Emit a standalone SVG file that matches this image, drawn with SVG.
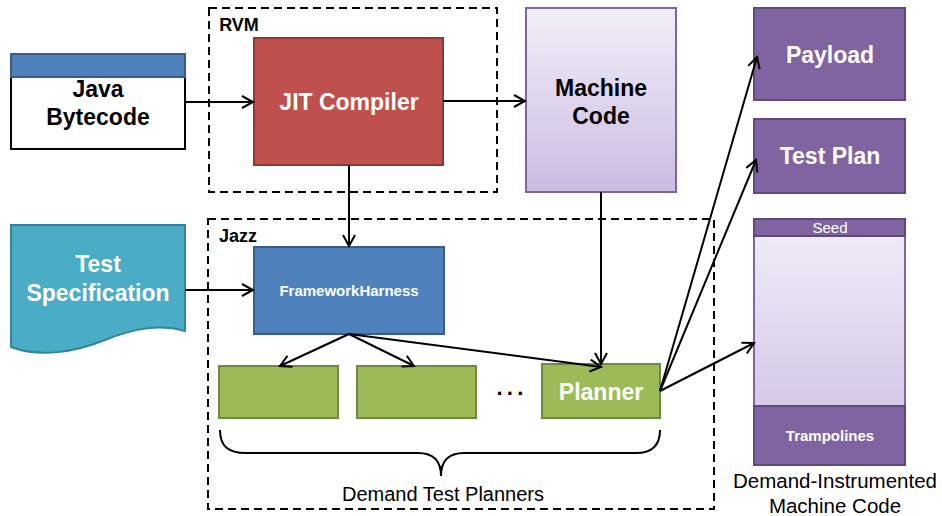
<svg xmlns="http://www.w3.org/2000/svg" width="942" height="516" viewBox="0 0 942 516">
<style>
text{font-family:"Liberation Sans",Arial,sans-serif;text-anchor:middle}
.b{font-weight:bold}
.big{font-size:23px;font-weight:bold}
.w{fill:#ffffff}
.k{fill:#000000}
.dash{fill:none;stroke:#000;stroke-width:2;stroke-dasharray:8,5}
.conn{fill:none;stroke:#000;stroke-width:2}
.purple{fill:#8064A2;stroke:#5F497A;stroke-width:2}
.green{fill:#9BBB59;stroke:#71893F;stroke-width:2}
</style>
<defs>
<marker id="ah" markerUnits="userSpaceOnUse" markerWidth="16" markerHeight="16" viewBox="0 0 16 16" refX="14" refY="8" orient="auto">
<path d="M3,2 L14,8 L3,14" fill="none" stroke="#000" stroke-width="2"/>
</marker>
<linearGradient id="lav" x1="0" y1="0" x2="0" y2="1">
<stop offset="0" stop-color="#F2EEF8"/>
<stop offset="1" stop-color="#CBBCE3"/>
</linearGradient>
</defs>

<g id="rvm">
<rect class="dash" x="209" y="8" width="288" height="184"/>
<text class="b k" x="239" y="31" style="font-size:18px">RVM</text>
</g>
<g id="jazz">
<rect class="dash" x="208" y="219" width="506" height="290"/>
<text class="b k" x="238" y="242" style="font-size:18px">Jazz</text>
</g>

<g id="java-bytecode">
<rect x="11" y="54" width="174" height="95" fill="#fff" stroke="#000" stroke-width="2"/>
<rect x="11" y="54" width="174" height="23" fill="#4F81BD" stroke="#385D8A" stroke-width="2"/>
<text class="big k" x="98" y="97">Java</text>
<text class="big k" x="98" y="125">Bytecode</text>
</g>

<g id="jit-compiler">
<rect x="254" y="38" width="189" height="127" fill="#C0504D" stroke="#8C3836" stroke-width="2"/>
<text class="big w" x="349" y="110">JIT Compiler</text>
</g>

<g id="machine-code">
<rect x="526" y="8" width="150" height="184" fill="url(#lav)" stroke="#8064A2" stroke-width="2"/>
<text class="big k" x="601" y="96">Machine</text>
<text class="big k" x="601" y="124">Code</text>
</g>

<g id="payload">
<rect class="purple" x="754" y="8" width="151" height="92"/>
<text class="big w" x="830" y="63">Payload</text>
</g>

<g id="test-plan">
<rect class="purple" x="754" y="119" width="151" height="74"/>
<text class="big w" x="830" y="164">Test Plan</text>
</g>

<g id="demand-instrumented">
<rect x="754" y="219" width="151" height="246" fill="url(#lav)" stroke="#8064A2" stroke-width="2"/>
<rect class="purple" x="754" y="219" width="151" height="17"/>
<text class="w" x="830" y="233" style="font-size:15px">Seed</text>
<rect class="purple" x="754" y="406" width="151" height="59"/>
<text class="b w" x="830" y="441" style="font-size:15px">Trampolines</text>
<text class="k" x="835" y="488" style="font-size:20.5px">Demand-Instrumented</text>
<text class="k" x="835" y="513" style="font-size:20.5px">Machine Code</text>
</g>

<g id="test-specification">
<path d="M11,225 H185 V331 C160,324 135,328 105,340 C75,352 40,358 11,347 Z" fill="#4BACC6" stroke="#31859C" stroke-width="2"/>
<text class="big w" x="98" y="272">Test</text>
<text class="big w" x="98" y="301">Specification</text>
</g>

<g id="framework-harness">
<rect x="254" y="247" width="190" height="87" fill="#4F81BD" stroke="#385D8A" stroke-width="2"/>
<text class="b w" x="349" y="296" style="font-size:15px">FrameworkHarness</text>
</g>

<g id="planner-1">
<rect class="green" x="219" y="366" width="119" height="52"/>
</g>
<g id="planner-2">
<rect class="green" x="357" y="366" width="119" height="52"/>
</g>
<g id="ellipsis">
<text class="b k" x="512" y="401" style="font-size:22px;letter-spacing:3px">···</text>
</g>
<g id="planner">
<rect class="green" x="542" y="364" width="118" height="54"/>
<text class="big w" x="601" y="400">Planner</text>
</g>

<g id="demand-test-planners">
<path class="conn" d="M220,430 C220,446 228,453 246,453 H418 C434,453 441,462 441,476 C441,462 448,453 464,453 H636 C652,453 660,446 660,430"/>
<text class="k" x="443" y="501" style="font-size:20px">Demand Test Planners</text>
</g>

<g id="connectors">
<line class="conn" x1="185" y1="102" x2="253" y2="102" marker-end="url(#ah)"/>
<line class="conn" x1="443" y1="101" x2="525" y2="101" marker-end="url(#ah)"/>
<line class="conn" x1="349" y1="165" x2="349" y2="246" marker-end="url(#ah)"/>
<line class="conn" x1="185" y1="290" x2="253" y2="290" marker-end="url(#ah)"/>
<line class="conn" x1="601" y1="192" x2="601" y2="364" marker-end="url(#ah)"/>
<line class="conn" x1="349" y1="334" x2="280" y2="366" marker-end="url(#ah)"/>
<line class="conn" x1="349" y1="334" x2="414" y2="366" marker-end="url(#ah)"/>
<line class="conn" x1="349" y1="334" x2="601" y2="367" marker-end="url(#ah)"/>
<line class="conn" x1="660" y1="391" x2="757" y2="57" marker-end="url(#ah)"/>
<line class="conn" x1="660" y1="391" x2="756" y2="160" marker-end="url(#ah)"/>
<line class="conn" x1="660" y1="391" x2="754" y2="343" marker-end="url(#ah)"/>
</g>
</svg>
